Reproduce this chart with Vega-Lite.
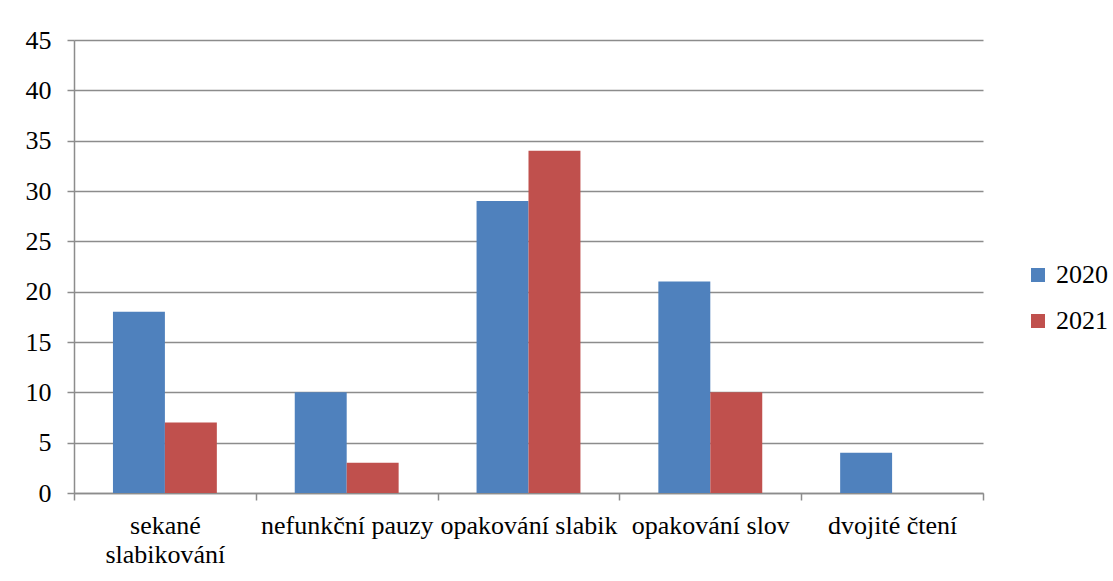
{
  "$schema": "https://vega.github.io/schema/vega-lite/v6.json",
  "width": 909,
  "height": 453,
  "autosize": "none",
  "padding": {"left": 74, "top": 40, "right": 130, "bottom": 88},
  "background": "white",
  "config": {
    "font": "'Times New Roman', 'Liberation Serif', 'DejaVu Serif', serif",
    "view": {"stroke": null}
  },
  "data": {
    "values": [
      {"kategorie": "sekané slabikování", "rok": "2020", "pocet": 18},
      {"kategorie": "sekané slabikování", "rok": "2021", "pocet": 7},
      {"kategorie": "nefunkční pauzy", "rok": "2020", "pocet": 10},
      {"kategorie": "nefunkční pauzy", "rok": "2021", "pocet": 3},
      {"kategorie": "opakování slabik", "rok": "2020", "pocet": 29},
      {"kategorie": "opakování slabik", "rok": "2021", "pocet": 34},
      {"kategorie": "opakování slov", "rok": "2020", "pocet": 21},
      {"kategorie": "opakování slov", "rok": "2021", "pocet": 10},
      {"kategorie": "dvojité čtení", "rok": "2020", "pocet": 4}
    ]
  },
  "mark": {"type": "bar"},
  "encoding": {
    "x": {
      "field": "kategorie",
      "type": "nominal",
      "sort": null,
      "scale": {"paddingInner": 0, "paddingOuter": 0},
      "axis": {
        "title": null,
        "labelAngle": 0,
        "labelFontSize": 26,
        "labelColor": "black",
        "labelPadding": 12,
        "labelLineHeight": 29,
        "labelExpr": "datum.label == 'sekané slabikování' ? ['sekané', 'slabikování'] : datum.label",
        "domainColor": "#8c8c8c",
        "domainWidth": 1.5,
        "tickColor": "#8c8c8c",
        "tickWidth": 1.5,
        "tickSize": 7,
        "tickBand": "extent",
        "labelLimit": 0
      }
    },
    "xOffset": {
      "field": "rok",
      "type": "nominal",
      "scale": {"paddingInner": 0, "paddingOuter": 0.75}
    },
    "y": {
      "field": "pocet",
      "type": "quantitative",
      "scale": {"domain": [0, 45], "nice": false},
      "axis": {
        "title": null,
        "values": [0, 5, 10, 15, 20, 25, 30, 35, 40, 45],
        "labelFontSize": 26,
        "labelColor": "black",
        "labelPadding": 16,
        "grid": true,
        "gridColor": "#8c8c8c",
        "gridWidth": 1.5,
        "domainColor": "#8c8c8c",
        "domainWidth": 1.5,
        "tickColor": "#8c8c8c",
        "tickWidth": 1.5,
        "tickSize": 7
      }
    },
    "color": {
      "field": "rok",
      "type": "nominal",
      "scale": {"domain": ["2020", "2021"], "range": ["#4F81BD", "#C0504D"]},
      "legend": {
        "title": null,
        "orient": "none",
        "legendX": 951,
        "legendY": 222,
        "symbolType": "square",
        "symbolSize": 196,
        "symbolStrokeWidth": 0,
        "labelFontSize": 26,
        "labelColor": "black",
        "labelOffset": 5,
        "rowPadding": 20
      }
    }
  }
}
